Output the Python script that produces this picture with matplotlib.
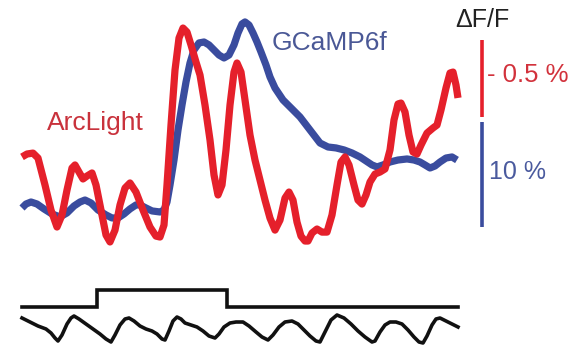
import numpy as np
import matplotlib
matplotlib.use("Agg")
import matplotlib.pyplot as plt

plt.rcParams['font.family'] = ['Liberation Sans', 'DejaVu Sans']

# ---- ArcLight (voltage) trace: time (s), dF/F (%) -- negative-going indicator
arc_t = [0.00, 0.05, 0.11, 0.16, 0.23, 0.29, 0.35, 0.40, 0.45, 0.50, 0.53, 0.57,
         0.61, 0.65, 0.70, 0.74, 0.79, 0.84, 0.88, 0.93, 0.98, 1.03, 1.08, 1.14,
         1.21, 1.28, 1.34, 1.38, 1.42, 1.45, 1.49, 1.53, 1.57, 1.61, 1.65, 1.69,
         1.74, 1.78, 1.83, 1.88, 1.92, 1.96, 2.00, 2.04, 2.08, 2.12, 2.15, 2.19,
         2.23, 2.28, 2.33, 2.38, 2.43, 2.48, 2.53, 2.58, 2.63, 2.67, 2.71, 2.75,
         2.79, 2.83, 2.86, 2.90, 2.95, 3.00, 3.05, 3.10, 3.15, 3.19, 3.23, 3.27,
         3.32, 3.36, 3.40, 3.44, 3.48, 3.53, 3.58, 3.63, 3.68, 3.72, 3.76, 3.79,
         3.83, 3.87, 3.91, 3.95, 3.99, 4.05, 4.11, 4.15, 4.19, 4.24, 4.28, 4.31,
         4.34, 4.36]
arc_dff = [-0.520, -0.539, -0.545, -0.513, -0.338, -0.175, -0.065, -0.143, -0.305,
           -0.448, -0.468, -0.422, -0.377, -0.396, -0.416, -0.338, -0.175, -0.013,
           0.032, -0.045, -0.208, -0.318, -0.351, -0.292, -0.175, -0.065, -0.006,
           0.000, -0.078, -0.338, -0.727, -1.084, -1.292, -1.357, -1.331, -1.247,
           -1.136, -1.052, -0.857, -0.630, -0.403, -0.273, -0.338, -0.565, -0.857,
           -1.071, -1.130, -1.071, -0.890, -0.662, -0.500, -0.370, -0.240, -0.123,
           -0.045, -0.110, -0.253, -0.292, -0.240, -0.097, -0.006, 0.026, 0.026,
           -0.026, -0.052, -0.032, -0.032, -0.143, -0.338, -0.487, -0.520, -0.468,
           -0.338, -0.240, -0.214, -0.273, -0.357, -0.409, -0.422, -0.442, -0.565,
           -0.760, -0.864, -0.870, -0.812, -0.662, -0.552, -0.539, -0.597, -0.675,
           -0.708, -0.727, -0.825, -0.968, -1.065, -1.071, -0.987, -0.903]

# ---- GCaMP6f (calcium) trace: time (s), dF/F (%)
gc_t = [0.00, 0.04, 0.09, 0.15, 0.22, 0.30, 0.38, 0.45, 0.52, 0.58, 0.63, 0.69,
        0.76, 0.84, 0.90, 0.96, 1.02, 1.08, 1.14, 1.18, 1.24, 1.30, 1.38, 1.42,
        1.45, 1.48, 1.52, 1.56, 1.60, 1.64, 1.68, 1.72, 1.77, 1.82, 1.87, 1.92,
        1.97, 2.02, 2.07, 2.12, 2.16, 2.20, 2.23, 2.27, 2.31, 2.35, 2.39, 2.44,
        2.48, 2.53, 2.61, 2.69, 2.78, 2.88, 2.98, 3.06, 3.14, 3.22, 3.30, 3.38,
        3.44, 3.50, 3.55, 3.61, 3.68, 3.76, 3.85, 3.92, 3.98, 4.03, 4.08, 4.13,
        4.18, 4.24, 4.30, 4.35]
gc_dff = [0.95, 1.33, 1.52, 1.33, 0.86, 0.38, 0.10, 0.48, 1.14, 1.52, 1.71, 1.43,
          0.76, 0.29, 0.00, 0.00, 0.38, 0.86, 1.24, 1.24, 0.95, 0.67, 0.57, 0.76,
          1.52, 3.14, 5.52, 8.38, 10.76, 12.95, 14.76, 16.00, 16.67, 16.76, 16.48,
          16.00, 15.52, 15.24, 15.52, 16.48, 17.62, 18.48, 18.67, 18.38, 17.62,
          16.76, 15.81, 14.57, 13.43, 12.38, 11.24, 10.48, 9.62, 8.38, 7.14, 6.76,
          6.67, 6.48, 6.19, 5.81, 5.43, 5.05, 4.86, 5.05, 5.33, 5.52, 5.62, 5.52,
          5.33, 5.05, 4.76, 4.95, 5.33, 5.71, 5.81, 5.52]

# ---- stimulus command (off / on)
stim_t = [0.00, 0.75, 0.75, 2.05, 2.05, 4.36]
stim_on = [0, 0, 1, 1, 0, 0]

# ---- respiration trace (a.u.)
resp_t = [0.00, 0.08, 0.16, 0.24, 0.29, 0.33, 0.36, 0.40, 0.45, 0.49, 0.52, 0.57,
          0.64, 0.71, 0.78, 0.84, 0.89, 0.93, 0.98, 1.03, 1.07, 1.12, 1.18, 1.24,
          1.30, 1.35, 1.40, 1.43, 1.47, 1.51, 1.55, 1.59, 1.63, 1.69, 1.75, 1.81,
          1.87, 1.93, 1.97, 2.02, 2.08, 2.14, 2.21, 2.27, 2.34, 2.40, 2.46, 2.51,
          2.57, 2.63, 2.70, 2.76, 2.82, 2.88, 2.94, 2.98, 3.03, 3.09, 3.15, 3.22,
          3.29, 3.36, 3.43, 3.50, 3.53, 3.58, 3.63, 3.68, 3.74, 3.80, 3.86, 3.92,
          3.97, 4.01, 4.05, 4.10, 4.14, 4.18, 4.24, 4.30, 4.36]
resp = [2.5, 2.1, 1.7, 1.4, 1.0, 0.5, 0.2, 0.8, 1.9, 2.5, 2.7, 2.4, 1.9, 1.4, 0.9,
        0.4, 0.1, 0.8, 1.8, 2.4, 2.5, 2.2, 1.7, 1.4, 1.2, 0.9, 0.4, 0.3, 1.2, 2.2,
        2.6, 2.4, 2.0, 1.8, 1.6, 1.2, 0.7, 0.5, 0.9, 1.6, 2.0, 2.1, 2.1, 1.7, 1.1,
        0.6, 0.3, 0.8, 1.6, 2.1, 2.2, 1.9, 1.3, 0.7, 0.2, 0.1, 1.1, 2.3, 2.8, 2.5,
        1.9, 1.2, 0.6, 0.1, 0.2, 1.1, 1.8, 2.1, 2.1, 1.9, 1.3, 0.6, 0.1, 0.0, 0.7,
        1.8, 2.4, 2.5, 2.2, 1.9, 1.6]

# scale bar sizes (dF/F %)
arc_bar = 0.5
gc_bar = 10.0

RED = '#e5202b'
BLUE = '#3a4c9e'

W, H = 584, 349
fig = plt.figure(figsize=(W / 100, H / 100), dpi=100)
fig.patch.set_facecolor('white')

xlim = (-0.22, 5.62)


def overlay_axes(ylim):
    ax = fig.add_axes([0, 0, 1, 1], facecolor='none')
    ax.set_xlim(*xlim)
    ax.set_ylim(*ylim)
    ax.axis('off')
    return ax


ax_gc = overlay_axes((-12.48, 20.76))
ax_arc = overlay_axes((0.727, -1.539))   # ArcLight plotted inverted
ax_stim = overlay_axes((-2.47, 18.06))
ax_resp = overlay_axes((-0.6, 34.3))

lw_trace = 5.2
ax_gc.plot(gc_t, gc_dff, color=BLUE, lw=lw_trace, solid_capstyle='butt',
           solid_joinstyle='round', zorder=2)
ax_arc.plot(arc_t, arc_dff, color=RED, lw=lw_trace, solid_capstyle='butt',
            solid_joinstyle='round', zorder=3)

ax_stim.plot(stim_t, stim_on, color='#111111', lw=2.6, solid_joinstyle='miter')
ax_resp.plot(resp_t, resp, color='#111111', lw=2.6, solid_joinstyle='round')

# scale bars
bar_x = 4.60
arc_bar_top = -1.279
ax_arc.plot([bar_x, bar_x], [arc_bar_top, arc_bar_top + arc_bar], color=RED,
            lw=2.6, solid_capstyle='butt')
gc_bar_bottom = -0.857
ax_gc.plot([bar_x, bar_x], [gc_bar_bottom, gc_bar_bottom + gc_bar], color=BLUE,
           lw=2.6, solid_capstyle='butt')


def px_text(x, y, s, **kw):
    fig.text(x / W, 1 - y / H, s, va='center', ha='left', **kw)


px_text(47, 123, 'ArcLight', color='#c9323c', fontsize=19)
px_text(272, 43, 'GCaMP6f', color='#4a5896', fontsize=19)
px_text(455, 20, 'ΔF/F', color='#222222', fontsize=18)
px_text(487, 75, '- 0.5 %', color='#d2323c', fontsize=18.5)
px_text(489, 172, '10 %', color='#4a5a9e', fontsize=18)

fig.savefig('out.png', dpi=100, facecolor='white')
